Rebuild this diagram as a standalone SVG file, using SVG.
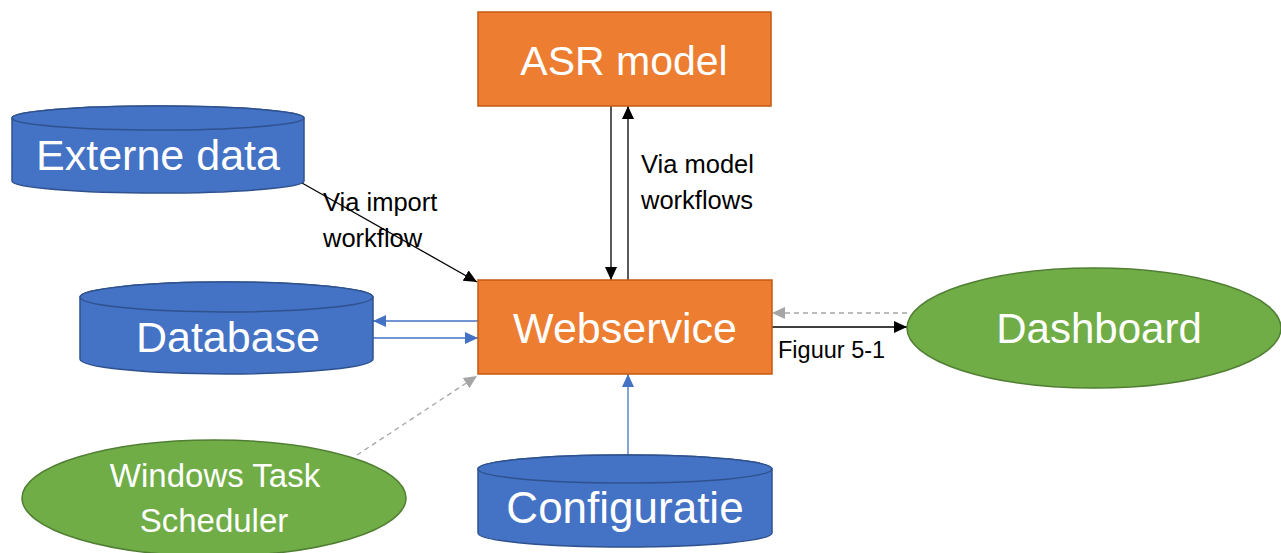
<svg xmlns="http://www.w3.org/2000/svg" width="1281" height="553" viewBox="0 0 1281 553">
<style>
.rect{fill:#ED7D31;stroke:#C55A11;stroke-width:1.5}
.cyl{fill:#4472C4;stroke:#2F528F;stroke-width:1.5}
.ell{fill:#70AD47;stroke:#507E32;stroke-width:1.5}
.big{font-family:"Liberation Sans",Arial,sans-serif;fill:#fff;text-anchor:middle}
.lbl{font-family:"Liberation Sans",Arial,sans-serif;fill:#000;font-size:25.5px}
.k{stroke:#000;stroke-width:1.3;fill:none}
.b{stroke:#4472C4;stroke-width:1.3;fill:none}
.g{stroke:#A5A5A5;stroke-width:1.3;fill:none;stroke-dasharray:5 4}
</style>
<defs>
<marker id="ak" markerWidth="14" markerHeight="12" refX="13" refY="6" orient="auto" markerUnits="userSpaceOnUse"><path d="M0,0 L13,6 L0,12 Z" fill="#000"/></marker>
<marker id="ab" markerWidth="14" markerHeight="12" refX="13" refY="6" orient="auto" markerUnits="userSpaceOnUse"><path d="M0,0 L13,6 L0,12 Z" fill="#4472C4"/></marker>
<marker id="ag" markerWidth="14" markerHeight="12" refX="13" refY="6" orient="auto" markerUnits="userSpaceOnUse"><path d="M0,0 L13,6 L0,12 Z" fill="#A5A5A5"/></marker>
</defs>
<rect width="1281" height="553" fill="#fff"/>
<g id="connectors">
<line class="k" x1="611" y1="106" x2="611" y2="280" marker-end="url(#ak)"/>
<line class="k" x1="628" y1="280" x2="628" y2="106" marker-end="url(#ak)"/>
<line class="k" x1="302" y1="183" x2="477" y2="282" marker-end="url(#ak)"/>
<line class="b" x1="478" y1="321" x2="373" y2="321" marker-end="url(#ab)"/>
<line class="b" x1="373" y1="338" x2="478" y2="338" marker-end="url(#ab)"/>
<line class="g" x1="907" y1="313" x2="772" y2="313" marker-end="url(#ag)"/>
<line class="k" x1="772" y1="327" x2="907" y2="327" marker-end="url(#ak)"/>
<line class="g" x1="357" y1="455" x2="477" y2="376" marker-end="url(#ag)"/>
<line class="b" x1="628" y1="455" x2="628" y2="374" marker-end="url(#ab)"/>
<text class="lbl" x="323" y="211">Via import</text>
<text class="lbl" x="323" y="247">workflow</text>
<text class="lbl" x="641" y="173">Via model</text>
<text class="lbl" x="641" y="209">workflows</text>
<text class="lbl" x="778" y="358" style="font-size:23.5px">Figuur 5-1</text>
</g>
<g id="asr">
<rect class="rect" x="478" y="12" width="293" height="94"/>
<text class="big" x="624" y="75" font-size="41">ASR model</text>
</g>
<g id="webservice">
<rect class="rect" x="478" y="280" width="294" height="94"/>
<text class="big" x="625" y="343" font-size="43">Webservice</text>
</g>
<g id="externe">
<path class="cyl" d="M12,118 A146,12 0 0 1 304,118 V181 A146,12 0 0 1 12,181 Z"/>
<ellipse class="cyl" cx="158" cy="118" rx="146" ry="12"/>
<text class="big" x="158" y="170" font-size="43">Externe data</text>
</g>
<g id="database">
<path class="cyl" d="M80,297 A146.5,15 0 0 1 373,297 V359 A146.5,15 0 0 1 80,359 Z"/>
<ellipse class="cyl" cx="226.5" cy="297" rx="146.5" ry="15"/>
<text class="big" x="228" y="352" font-size="43">Database</text>
</g>
<g id="configuratie">
<path class="cyl" d="M478,469 A147,14 0 0 1 772,469 V533 A147,14 0 0 1 478,533 Z"/>
<ellipse class="cyl" cx="625" cy="469" rx="147" ry="14"/>
<text class="big" x="625" y="523" font-size="44">Configuratie</text>
</g>
<g id="dashboard">
<ellipse class="ell" cx="1094" cy="328" rx="187" ry="60"/>
<text class="big" x="1099" y="343" font-size="42">Dashboard</text>
</g>
<g id="scheduler">
<ellipse class="ell" cx="214" cy="498" rx="192" ry="58"/>
<text class="big" x="215" y="487" font-size="33">Windows Task</text>
<text class="big" x="214" y="532" font-size="33">Scheduler</text>
</g>
</svg>
